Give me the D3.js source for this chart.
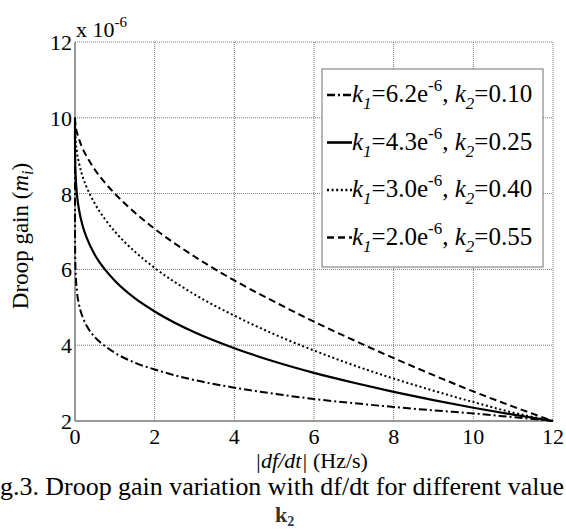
<!DOCTYPE html>
<html>
<head>
<meta charset="utf-8">
<script src="https://cdn.jsdelivr.net/npm/d3@7"></script>
<style>
  body { margin: 0; background: #fff; }
  svg { display: block; font-family: "Liberation Serif", "Times New Roman", serif; }
</style>
</head>
<body>
<svg id="chart"></svg>
<script>
"use strict";

// =================== DATA (m_i in units of 1e-6) ===================
const dfdt = [0, 0.001, 0.01, 0.05, 0.1, 0.2, 0.3, 0.5, 0.75, 1, 1.5, 2, 3, 4, 5, 6, 7, 8, 9, 10, 11, 12];
const gainA = [10, 6.89, 6.09, 5.41, 5.08, 4.72, 4.50, 4.21, 3.98, 3.80, 3.54, 3.36, 3.08, 2.88, 2.72, 2.58, 2.47, 2.37, 2.28, 2.20, 2.10, 2.00];
const gainB = [10, 9.24, 8.64, 7.97, 7.58, 7.12, 6.82, 6.38, 6.00, 5.70, 5.24, 4.89, 4.34, 3.92, 3.57, 3.27, 3.01, 2.77, 2.55, 2.35, 2.17, 2.00];
const gainC = [10, 9.81, 9.52, 9.09, 8.81, 8.42, 8.15, 7.73, 7.33, 7.00, 6.47, 6.04, 5.34, 4.78, 4.29, 3.86, 3.47, 3.12, 2.80, 2.50, 2.22, 2.00];
const gainD = [10, 9.96, 9.84, 9.61, 9.44, 9.17, 8.97, 8.63, 8.29, 8.00, 7.50, 7.07, 6.34, 5.71, 5.15, 4.62, 4.13, 3.66, 3.21, 2.78, 2.38, 2.00];

const k1Labels = ["6.2", "4.3", "3.0", "2.0"];
const k2Labels = ["0.10", "0.25", "0.40", "0.55"];
const xTicks = [0, 2, 4, 6, 8, 10, 12];
const yTicks = [2, 4, 6, 8, 10, 12];

// line styles for each series (dash-dot, solid, dotted, dashed)
const styles = [
  { dash: "8,3,2,3", width: 2 },
  { dash: null, width: 2.2 },
  { dash: "2,2.6", width: 2 },
  { dash: "7,4", width: 2 }
];
const series = [gainA, gainB, gainC, gainD];

// =================== SETUP ===================
const W = 566, H = 531;
const margin = { top: 42, left: 75, right: 13, bottom: 110 };
const width = W - margin.left - margin.right;
const height = H - margin.top - margin.bottom;

const svg = d3.select("#chart").attr("width", W).attr("height", H);
const g = svg.append("g").attr("transform", `translate(${margin.left},${margin.top})`);

const x = d3.scaleLinear().domain([0, 12]).range([0, width]);
const y = d3.scaleLinear().domain([2, 12]).range([height, 0]);

// =================== GRID ===================
g.selectAll("line.vgrid").data(xTicks.slice(1)).enter().append("line")
  .attr("x1", d => x(d)).attr("x2", d => x(d))
  .attr("y1", 0).attr("y2", height)
  .attr("stroke", "#777").attr("stroke-width", 1).attr("stroke-dasharray", "1,1");
g.selectAll("line.hgrid").data(yTicks.slice(1)).enter().append("line")
  .attr("x1", 0).attr("x2", width)
  .attr("y1", d => y(d)).attr("y2", d => y(d))
  .attr("stroke", "#777").attr("stroke-width", 1).attr("stroke-dasharray", "1,1");

// axis lines (left + bottom)
g.append("line").attr("x1", 0).attr("x2", 0).attr("y1", 0).attr("y2", height)
  .attr("stroke", "#777").attr("stroke-width", 1.5);
g.append("line").attr("x1", 0).attr("x2", width).attr("y1", height).attr("y2", height)
  .attr("stroke", "#777").attr("stroke-width", 1.5);

// tick labels
g.selectAll("text.xt").data(xTicks).enter().append("text")
  .attr("x", d => x(d)).attr("y", height + 23)
  .attr("text-anchor", "middle").style("font-size", "22px")
  .text(d => d);
g.selectAll("text.yt").data(yTicks).enter().append("text")
  .attr("x", -3).attr("y", d => y(d) + 8)
  .attr("text-anchor", "end").style("font-size", "22px")
  .text(d => d);

// exponent label
const expo = g.append("text").attr("x", 1).attr("y", -5).style("font-size", "22px");
expo.append("tspan").text("x 10");
expo.append("tspan").attr("dy", -10).style("font-size", "15px").text("-6");

// =================== CURVES ===================
const line = d3.line()
  .x(d => x(d[0]))
  .y(d => y(d[1]))
  .curve(d3.curveMonotoneX);

series.forEach((vals, i) => {
  g.append("path")
    .datum(dfdt.map((v, j) => [v, vals[j]]))
    .attr("d", line)
    .attr("fill", "none")
    .attr("stroke", "#000")
    .attr("stroke-width", styles[i].width)
    .attr("stroke-dasharray", styles[i].dash);
});

// =================== LEGEND ===================
const lg = svg.append("g");
lg.append("rect")
  .attr("x", 322).attr("y", 69).attr("width", 221).attr("height", 198)
  .attr("fill", "#fff").attr("stroke", "#888").attr("stroke-width", 1.2);

k1Labels.forEach((k1, i) => {
  const by = 102 + i * 47.5;
  lg.append("line")
    .attr("x1", 327).attr("x2", 352).attr("y1", by - 7).attr("y2", by - 7)
    .attr("stroke", "#000").attr("stroke-width", styles[i].width + 0.4)
    .attr("stroke-dasharray", styles[i].dash);
  const t = lg.append("text").attr("x", 352).attr("y", by).style("font-size", "25px");
  t.append("tspan").style("font-style", "italic").text("k");
  t.append("tspan").attr("dy", 7).style("font-style", "italic").style("font-size", "17px").text("1");
  t.append("tspan").attr("dy", -7).text(`=${k1}e`);
  t.append("tspan").attr("dy", -11).style("font-size", "17px").text("-6");
  t.append("tspan").attr("dy", 11).text(", ");
  t.append("tspan").style("font-style", "italic").text("k");
  t.append("tspan").attr("dy", 7).style("font-style", "italic").style("font-size", "17px").text("2");
  t.append("tspan").attr("dy", -7).text(`=${k2Labels[i]}`);
});

// =================== AXIS TITLES ===================
const xl = svg.append("text").attr("x", 255).attr("y", 468).style("font-size", "22px");
xl.append("tspan").style("font-style", "italic").text("|df/dt|");
xl.append("tspan").text(" (Hz/s)");

const yl = svg.append("text")
  .attr("transform", "translate(28,236) rotate(-90)")
  .attr("text-anchor", "middle").style("font-size", "23px");
yl.append("tspan").text("Droop gain (");
yl.append("tspan").style("font-style", "italic").text("m");
yl.append("tspan").attr("dy", 5).style("font-style", "italic").style("font-size", "16px").text("i");
yl.append("tspan").attr("dy", -5).text(")");

// =================== CAPTION ===================
const cap = svg.append("text").attr("x", 0).attr("y", 495).style("font-size", "24px")
  .text("g.3. Droop gain variation with df/dt for different value");
const capW = cap.node().getComputedTextLength();
cap.style("font-size", (24 * 564 / capW).toFixed(2) + "px");

const k2 = svg.append("text").attr("x", 275).attr("y", 522)
  .style("font-size", "22px").style("font-weight", "700").attr("fill", "#3b2f2a");
k2.append("tspan").text("k");
k2.append("tspan").attr("dy", 4).style("font-size", "14px").attr("fill", "#2a3a5a").text("2");
</script>
</body>
</html>
